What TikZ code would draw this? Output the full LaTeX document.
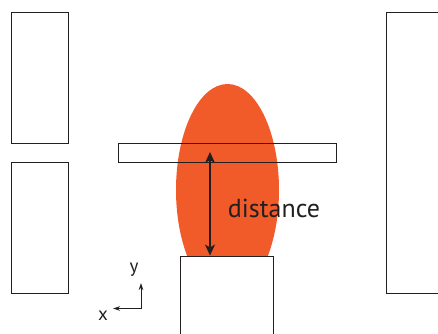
\documentclass[tikz,border=0pt]{standalone}
\usepackage{fontspec}
\setmainfont{PT Sans}
\usetikzlibrary{arrows.meta}
\definecolor{flame}{RGB}{241,90,41}
\definecolor{ink}{RGB}{35,31,32}
\begin{document}
\begin{tikzpicture}[x=1pt,y=-1pt,
  box/.style={draw=ink,line width=1pt},
  lbl/.style={font=\fontsize{26}{30}\selectfont,text=ink,inner sep=0pt},
  axlbl/.style={font=\fontsize{19}{22}\selectfont,text=ink,inner sep=0pt}]
\useasboundingbox (0,0) rectangle (438,333);
\clip (0,0) rectangle (438,333);
% left magnets
\draw[box] (11.5,12.5) rectangle (68,143);
\draw[box] (11.5,162.5) rectangle (68,293);
% right magnet
\draw[box] (386.5,12.5) rectangle (445,293);
% plasma
\fill[flame] (227.5,190) ellipse [x radius=51.5, y radius=106];
% bar
\draw[box] (118.5,143.5) rectangle (336,162);
% lower block
\fill[white] (180,256) rectangle (273,340);
\draw[box] (180.5,340) -- (180.5,256.5) -- (273,256.5) -- (273,340);
% distance arrow
\coordinate (dtop) at (210,152);
\coordinate (dbot) at (210,255.5);
\draw[ink,line width=1.1pt,{Stealth[length=11pt,width=10pt,inset=3pt]}-{Stealth[length=11pt,width=10pt,inset=3pt]}] (dtop) -- (dbot);
\node[lbl,anchor=center] (dist) at (274,208) {distance};
% axes
\coordinate (o) at (141,308.5);
\coordinate (yend) at (141,283);
\coordinate (xend) at (113,308.5);
\draw[ink,line width=0.8pt,-{Stealth[length=7pt,width=4.5pt]}] (o) -- (yend);
\draw[ink,line width=0.8pt,-{Stealth[length=7pt,width=4.5pt]}] (o) -- (xend);
\node[axlbl] (ylab) at (134,270) {y};
\node[axlbl] (xlab) at (103,316) {x};
\end{tikzpicture}
\end{document}
